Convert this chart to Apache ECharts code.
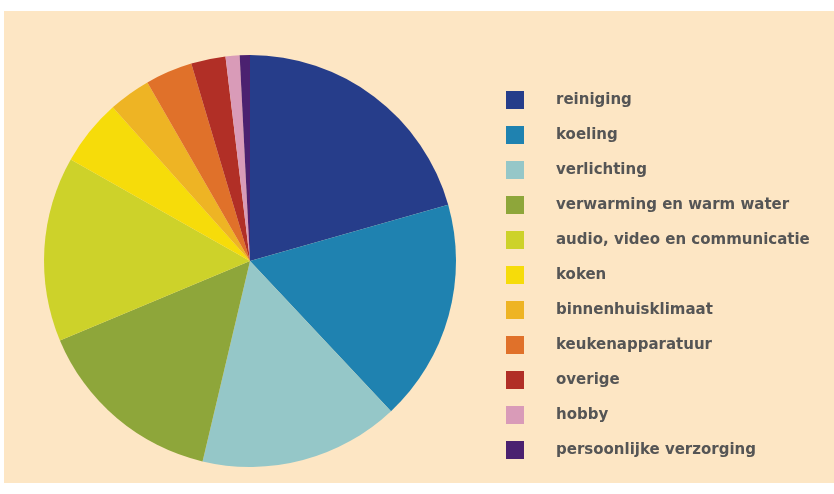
<!DOCTYPE html>
<html>
<head>
<meta charset="utf-8">
<script src="https://cdn.jsdelivr.net/npm/echarts@6/dist/echarts.min.js"></script>
<style>
html,body{margin:0;padding:0;background:#ffffff;}
#chart{width:834px;height:494px;}
</style>
</head>
<body>
<div id="chart"></div>
<script>
const categories = ['reiniging','koeling','verlichting','verwarming en warm water','audio, video en communicatie','koken','binnenhuisklimaat','keukenapparatuur','overige','hobby','persoonlijke verzorging'];
const values = [20.6, 17.4, 15.7, 15.0, 14.5, 5.2, 3.3, 3.7, 2.7, 1.1, 0.8];
const colors = ['#263d8a','#1f82b0','#95c7c8','#8ea63a','#cdd22a','#f6dc0a','#eeb424','#e0712a','#b12f26','#d99bb8','#4b2170'];

const chart = echarts.init(document.getElementById('chart'), null, {renderer:'canvas'});
chart.setOption({
  backgroundColor: '#ffffff',
  animation: false,
  color: colors,
  graphic: [{
    type: 'rect', z: -10, silent: true,
    shape: {x: 4, y: 11, width: 830, height: 472},
    style: {fill: '#fde6c4'}
  }],
  legend: {
    orient: 'vertical',
    left: 501, top: 86,
    itemWidth: 18, itemHeight: 18, itemGap: 17,
    icon: 'rect',
    textStyle: {color: '#555555', fontSize: 15, fontWeight: 'bold', fontFamily: 'DejaVu Sans', padding: [0,0,0,27]},
    data: categories
  },
  series: [{
    type: 'pie',
    center: [250, 261],
    radius: 206,
    startAngle: 90,
    clockwise: true,
    label: {show: false},
    labelLine: {show: false},
    emphasis: {disabled: true},
    itemStyle: {borderWidth: 0},
    data: categories.map((c, i) => ({name: c, value: values[i]}))
  }]
});
</script>
</body>
</html>
